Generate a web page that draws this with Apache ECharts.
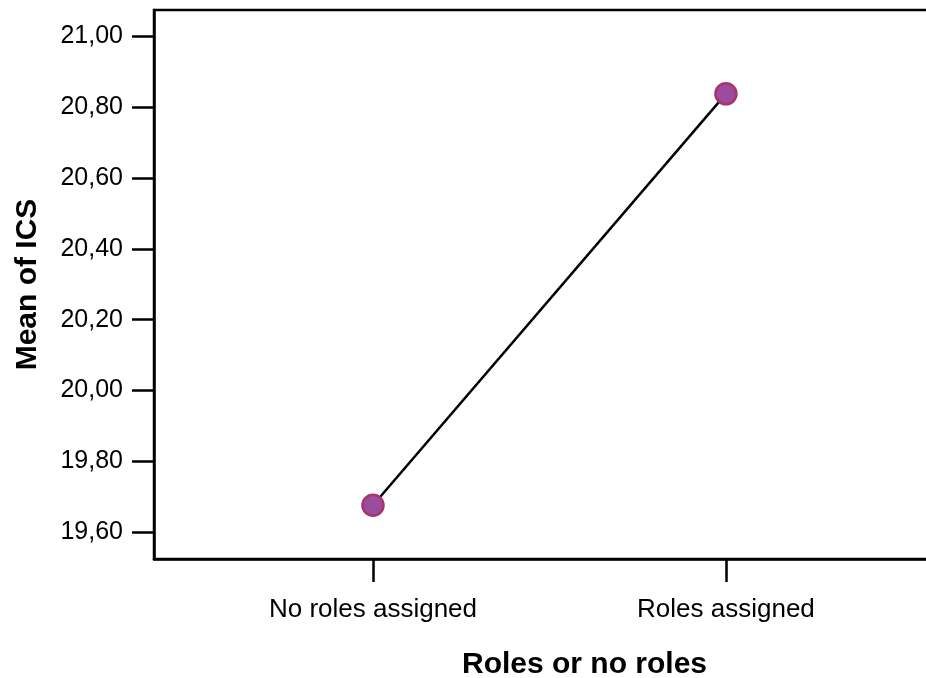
<!DOCTYPE html>
<html>
<head>
    <meta charset="utf-8">
    <script src="https://cdn.jsdelivr.net/npm/echarts@6/dist/echarts.min.js"></script>
</head>
<body style="margin:0;background:#fff;">
    <div id="main" style="width:926px;height:678px;"></div>
    <script type="text/javascript">
        var myChart = echarts.init(document.getElementById('main'));

        // data
        var categories = ['No roles assigned', 'Roles assigned'];
        var means = [19.676, 20.838];
        var yTicks = [19.6, 19.8, 20.0, 20.2, 20.4, 20.6, 20.8, 21.0];

        var font = '"Liberation Sans", Arial, Helvetica, sans-serif';
        var positions = categories.map(function (c, i) { return i + 1; });
        var points = means.map(function (v, i) { return [positions[i], v]; });

        var option = {
            animation: false,
            grid: {
                left: 154,
                top: 10,
                width: 861,   // plot runs on past the right edge, as in the original
                height: 549,
                outerBoundsMode: 'none',
                containLabel: false,
                show: true,
                borderColor: '#000',
                borderWidth: 2.5
            },
            xAxis: {
                type: 'value',
                min: 0.3796,
                max: 2.819,
                name: 'Roles or no roles',
                nameLocation: 'middle',
                nameGap: 91,
                nameTextStyle: { fontFamily: font, fontSize: 30, fontWeight: 'bold', color: '#000' },
                splitLine: { show: false },
                axisLine: { show: true, lineStyle: { color: '#000', width: 2.5 } },
                axisTick: { show: true, length: 23, customValues: positions, lineStyle: { color: '#000', width: 2.5 } },
                axisLabel: {
                    customValues: positions,
                    margin: 38,
                    fontFamily: font,
                    fontSize: 26,
                    color: '#000',
                    formatter: function (v) { return categories[Math.round(v) - 1] || ''; }
                }
            },
            yAxis: {
                type: 'value',
                min: 19.524,
                max: 21.0748,
                name: 'Mean of ICS',
                nameLocation: 'middle',
                nameGap: 111,
                nameRotate: 90,
                nameTextStyle: { fontFamily: font, fontSize: 30, fontWeight: 'bold', color: '#000' },
                splitLine: { show: false },
                axisLine: { show: true, lineStyle: { color: '#000', width: 2.5 } },
                axisTick: { show: true, length: 22, customValues: yTicks, lineStyle: { color: '#000', width: 2.5 } },
                axisLabel: {
                    customValues: yTicks,
                    margin: 31,
                    fontFamily: font,
                    fontSize: 25,
                    color: '#000',
                    formatter: function (v) { return v.toFixed(2).replace('.', ','); }
                }
            },
            series: [
                {
                    type: 'line',
                    data: points,
                    symbol: 'circle',
                    symbolSize: 21,
                    lineStyle: { color: '#000', width: 2.5 },
                    itemStyle: { color: '#9A4C9E', borderColor: '#A8336E', borderWidth: 2.5 },
                    z: 3
                }
            ]
        };

        myChart.setOption(option);
    </script>
</body>
</html>
